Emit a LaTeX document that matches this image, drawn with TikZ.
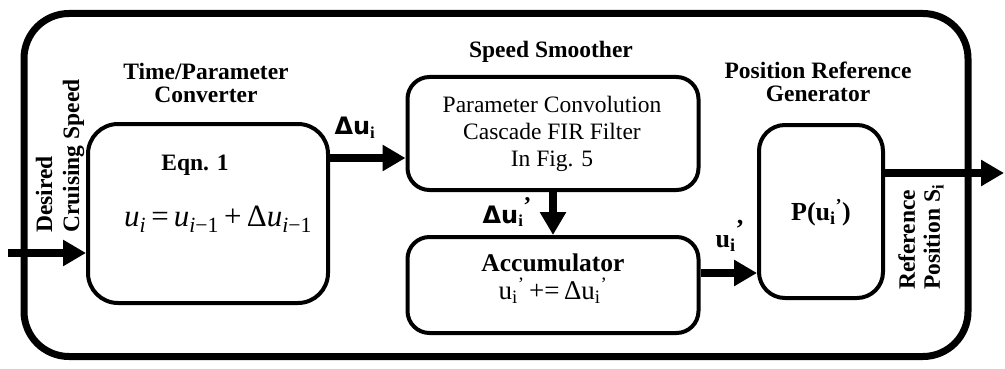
\documentclass[tikz,border=0pt]{standalone}
\usepackage{fontspec}
\setmainfont{Liberation Serif}
\newfontfamily\djsans{DejaVu Sans}
\usetikzlibrary{arrows.meta}
\newcommand{\sbs}[1]{\textsubscript{#1}}
\newcommand{\sps}[1]{\textsuperscript{#1}}
\begin{document}
\begin{tikzpicture}[x=1pt,y=-1pt,
  blk/.style={draw, line width=4pt, rounded corners=#1, inner sep=0pt},
  blk/.default=25pt,
  arr/.style={line width=8pt, -{Triangle[length=23pt,width=25pt]}},
  ttl/.style={font=\fontsize{23.5}{23.5}\selectfont\bfseries, align=center, inner sep=0pt},
  lbl/.style={inner sep=0pt, align=center},
  dlbl/.style={inner sep=0pt, font=\fontsize{24}{26}\selectfont\bfseries}]
\useasboundingbox (0,0) rectangle (1005,369);
% outer frame
\node[draw, line width=7pt, rounded corners=45pt, minimum width=944pt, minimum height=343pt, inner sep=0pt] (frame) at (496,185) {};
% blocks
\node[blk=30pt, minimum width=240pt, minimum height=179pt] (b1) at (208,213.5) {};
\node[blk=22pt, minimum width=291pt, minimum height=113pt] (b2) at (553,133.5) {};
\node[blk=22pt, minimum width=291pt, minimum height=96pt] (b3) at (553,285) {};
\node[blk=26pt, minimum width=124pt, minimum height=173pt] (b4) at (821,211.5) {};
% titles
\node[ttl] (t1) at (206,83) {Time/Parameter\\Converter};
\node[ttl] (t2) at (551,52) {Speed Smoother};
\node[ttl] (t3) at (818,82) {Position Reference\\Generator};
% block contents
\node[lbl, font=\fontsize{23.5}{26}\selectfont\bfseries] (eqn) at (195,165) {Eqn. 1};
\node[lbl, font=\fontsize{31}{32}\selectfont] (eq) at (218,219) {\textit{u}\sbs{\textit{i}}\,=\,\textit{u}\sbs{\textit{i}−1}\,+\,Δ\textit{u}\sbs{\textit{i}−1}};
\node[lbl, font=\fontsize{23.5}{27}\selectfont] (b2t) at (552,134) {Parameter Convolution\\Cascade FIR Filter\\In Fig. 5};
\node[lbl, font=\fontsize{25.5}{28}\selectfont\bfseries] (acc) at (553,263) {Accumulator};
\node[lbl, font=\fontsize{27}{28}\selectfont] (acc2) at (553,291) {u\sbs{i}\sps{’}\,+=\,Δu\sbs{i}\sps{’}};
\node[lbl, font=\fontsize{26}{28}\selectfont\bfseries] (pu) at (821,213) {P(u\sbs{i}\sps{’})};
% rotated labels
\node[lbl, rotate=90, anchor=west, align=left, font=\fontsize{23.5}{27}\selectfont\bfseries] (dcs) at (60,233) {Desired\\Cruising Speed};
\node[lbl, rotate=90, anchor=west, align=left, font=\fontsize{23.5}{25}\selectfont\bfseries] (rps) at (921,290) {Reference\\Position S\sbs{i}};
% connectors
\coordinate (in) at (8,253);
\coordinate (out) at (1004,173);
\draw[arr] (in) -- (in -| b1.west);
\draw[arr] (b1.east |- 0,158) -- (b2.west |- 0,158);
\draw[arr] (b2.south) -- (b3.north);
\draw[arr] (b3.east |- 0,273) -- (b4.west |- 0,273);
\draw[arr] (b4.east |- out) -- (out);
% connector labels
\node[dlbl] (du1) at (355,128) {{\djsans Δu}\sbs{i}};
\node[dlbl] (du2) at (507,212) {{\djsans Δu}\sbs{i}\raisebox{0.9ex}{’}};
\node[dlbl, font=\fontsize{26}{28}\selectfont\bfseries] (ul) at (730,236) {u\sbs{i}\raisebox{0.8ex}{’}};
\end{tikzpicture}
\end{document}
